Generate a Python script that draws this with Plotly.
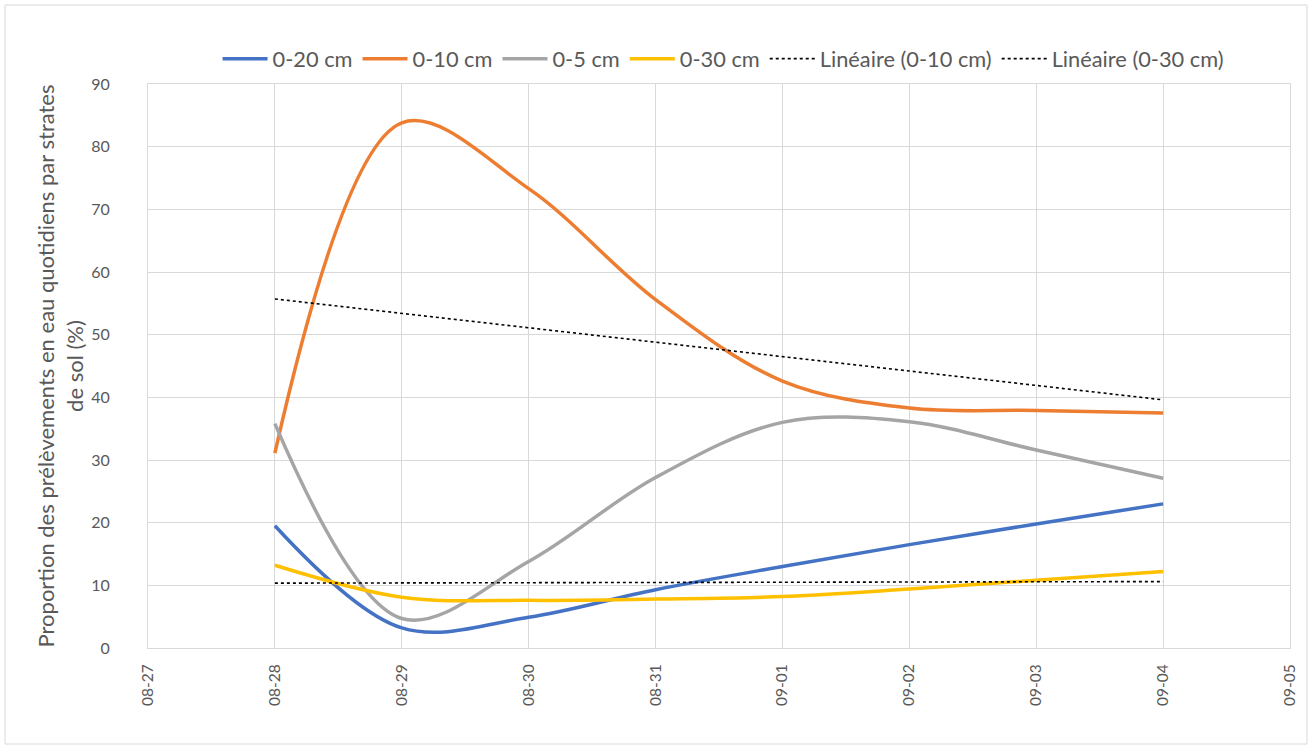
import plotly.graph_objects as go

# Daily sampling dates
dates = ["2021-08-28", "2021-08-29", "2021-08-30", "2021-08-31",
         "2021-09-01", "2021-09-02", "2021-09-03", "2021-09-04"]

# Share of daily water uptake per soil layer (%)
s_0_20 = [19.5, 3.2, 4.9, 9.3, 13.0, 16.5, 19.8, 23.0]
s_0_10 = [31.1, 83.8, 73.3, 55.6, 42.6, 38.3, 37.9, 37.5]
s_0_5 = [35.8, 4.7, 13.8, 27.2, 36.0, 36.1, 31.6, 27.1]
s_0_30 = [13.2, 8.1, 7.6, 7.8, 8.2, 9.4, 10.8, 12.2]

# Linear trend end points
trend_dates = ["2021-08-28", "2021-09-04"]
trend_0_10 = [55.7, 39.6]
trend_0_30 = [10.35, 10.6]

series = [
    ("0-20 cm", s_0_20, "#4472C4"),
    ("0-10 cm", s_0_10, "#ED7D31"),
    ("0-5 cm", s_0_5, "#A5A5A5"),
    ("0-30 cm", s_0_30, "#FFC000"),
]

FONT = "Lato, Open Sans, sans-serif"
GREY_TXT = "#595959"
GRID = "#d9d9d9"

fig = go.Figure()
for name, vals, col in series:
    fig.add_trace(go.Scatter(
        x=dates, y=vals, name=name, mode="lines",
        line=dict(color=col, width=3.5, shape="spline", smoothing=1.0),
    ))

for name, vals in [("Linéaire (0-10 cm)", trend_0_10), ("Linéaire (0-30 cm)", trend_0_30)]:
    fig.add_trace(go.Scatter(
        x=trend_dates, y=vals, name=name, mode="lines",
        line=dict(color="#000000", width=1.6, dash="dot"),
    ))

W, H = 1312, 749
L, R, T, B = 148, 22, 84, 101
pw, ph = W - L - R, H - T - B

# outer chart frame in paper coordinates
fx0 = (5 - L) / pw
fx1 = (1307 - L) / pw
fy0 = (H - B - 744) / ph
fy1 = (H - B - 5) / ph

fig.update_layout(
    width=W, height=H,
    margin=dict(l=L, r=R, t=T, b=B, autoexpand=False),
    paper_bgcolor="white", plot_bgcolor="white",
    font=dict(family=FONT, color=GREY_TXT, size=15),
    showlegend=True,
    legend=dict(
        orientation="h", x=0.504, xanchor="center",
        y=(H - B - 59) / ph, yanchor="middle",
        font=dict(size=21.8, color=GREY_TXT), itemwidth=45,
        traceorder="normal", bgcolor="rgba(0,0,0,0)",
    ),
    shapes=[dict(type="rect", xref="paper", yref="paper",
                 x0=fx0, x1=fx1, y0=fy0, y1=fy1,
                 line=dict(color=GRID, width=1), layer="below")],
)

fig.update_xaxes(
    type="date", range=["2021-08-27", "2021-09-05"],
    tickmode="linear", tick0="2021-08-27", dtick=86400000,
    tickformat="%m-%d", tickangle=-90,
    showgrid=True, gridcolor=GRID, gridwidth=1,
    showline=True, linecolor=GRID, mirror=True,
    ticks="outside", ticklen=9, tickcolor="rgba(0,0,0,0)",
    tickfont=dict(size=15.5, color=GREY_TXT),
)
fig.update_yaxes(
    range=[0, 90], dtick=10, tick0=0,
    showgrid=True, gridcolor=GRID, gridwidth=1, zeroline=False,
    showline=True, linecolor=GRID, mirror=True,
    ticks="outside", ticklen=34, tickcolor="rgba(0,0,0,0)",
    tickfont=dict(size=16, color=GREY_TXT),
    title=dict(
        text="Proportion des prélèvements en eau quotidiens par strates<br>de sol (%)",
        font=dict(size=22, color=GREY_TXT), standoff=1,
    ),
)

fig.write_html("out.html")
